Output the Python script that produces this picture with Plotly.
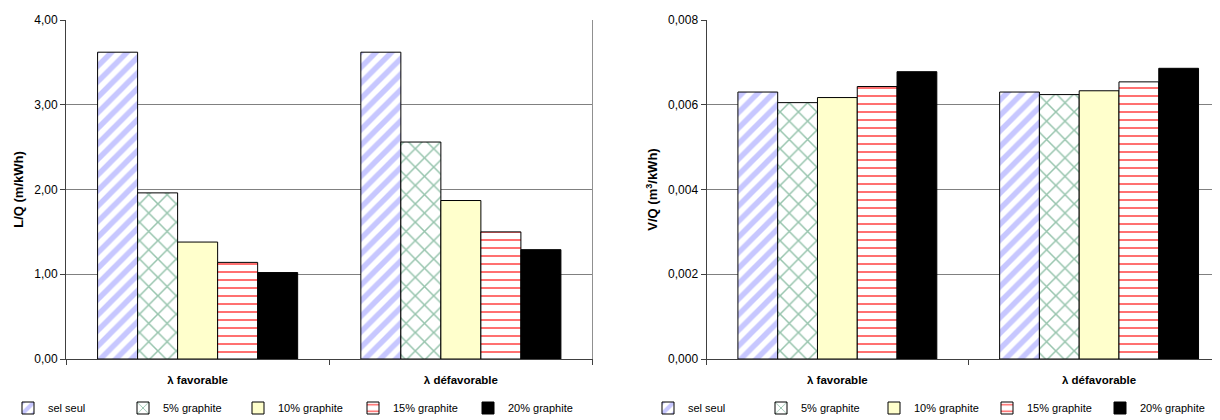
import plotly.graph_objects as go

categories = ["λ favorable", "λ défavorable"]
series = ["sel seul", "5% graphite", "10% graphite", "15% graphite", "20% graphite"]

# L/Q (m/kWh)
lq_sel = [3.62, 3.62]
lq_5 = [1.96, 2.56]
lq_10 = [1.38, 1.87]
lq_15 = [1.14, 1.50]
lq_20 = [1.02, 1.29]

# V/Q (m3/kWh)
vq_sel = [0.00630, 0.00630]
vq_5 = [0.00605, 0.00624]
vq_10 = [0.00617, 0.00633]
vq_15 = [0.00643, 0.00654]
vq_20 = [0.00678, 0.00686]

left_ticks = [0, 1, 2, 3, 4]
right_ticks = [0, 0.002, 0.004, 0.006, 0.008]

FONT = "Liberation Sans, Arial, sans-serif"

# the page body has an 8px default margin; the figure is sized/placed to compensate
OFF = 8
W, H = 1220 - OFF, 420 - OFF


def fx(p):
    return (p - OFF) / W


styles = [
    dict(color="white", pattern=dict(shape="/", fgcolor="#8f8fff", bgcolor="white", size=11, solidity=0.5)),
    dict(color="white", pattern=dict(shape="x", fgcolor="#2f8a5c", bgcolor="white", size=13, solidity=0.22)),
    dict(color="#FFFFCC"),
    dict(color="white", pattern=dict(shape="-", fgcolor="#FF0000", bgcolor="white", size=8, solidity=0.2, fgopacity=0.7)),
    dict(color="#000000"),
]

left_vals = [lq_sel, lq_5, lq_10, lq_15, lq_20]
right_vals = [vq_sel, vq_5, vq_10, vq_15, vq_20]

fig = go.Figure()
for name, vals, st in zip(series, left_vals, styles):
    fig.add_trace(go.Bar(x=categories, y=vals, name=name, xaxis="x", yaxis="y",
                         legend="legend",
                         marker=dict(line=dict(color="black", width=1), **st)))
for name, vals, st in zip(series, right_vals, styles):
    fig.add_trace(go.Bar(x=categories, y=vals, name=name, xaxis="x2", yaxis="y2",
                         legend="legend2",
                         marker=dict(line=dict(color="black", width=1), **st)))

axis_common = dict(showline=True, linecolor="#404040", linewidth=1, ticks="outside",
                   ticklen=5, tickcolor="#404040", automargin=False)

xfont = dict(family=FONT, size=11.5, weight="bold")
yfont = dict(family=FONT, size=12)
tfont = dict(family=FONT, size=13, weight="bold")

fig.update_layout(
    width=W, height=H,
    margin=dict(l=0, r=0, t=20 - OFF, b=61),
    paper_bgcolor="white", plot_bgcolor="white",
    separators=", ",
    font=dict(family=FONT, size=11, color="#000000"),
    barmode="group",
    bargap=0.24,
    bargroupgap=0,
    xaxis=dict(domain=[fx(66), fx(592.5)], anchor="y", type="category",
               range=[-0.5, 1.5], tickson="boundaries", ticklabelstandoff=10,
               tickfont=xfont, **axis_common),
    yaxis=dict(domain=[0, 1], anchor="x", range=[0, 4], tickvals=left_ticks, tickformat=".2f",
               showgrid=True, gridcolor="#808080", gridwidth=1, zeroline=False,
               tickfont=yfont,
               title=dict(text="L/Q (m/kWh)", standoff=7, font=tfont),
               **axis_common),
    xaxis2=dict(domain=[fx(706.5), 1.0], anchor="y2", type="category",
                range=[-0.5, 1.462], tickson="boundaries", ticklabelstandoff=10,
                tickfont=xfont, **axis_common),
    yaxis2=dict(domain=[0, 1], anchor="x2", range=[0, 0.008], tickvals=right_ticks, tickformat=".3f",
                showgrid=True, gridcolor="#808080", gridwidth=1, zeroline=False,
                tickfont=yfont,
                title=dict(text="V/Q (m<sup>3</sup>/kWh)", standoff=7, font=tfont),
                **axis_common),
    legend=dict(orientation="h", xref="container", yref="container", x=-8 / W,
                y=1 - (408 - OFF) / H,
                xanchor="left", yanchor="middle", entrywidth=70, itemwidth=30,
                font=dict(family=FONT, size=11), traceorder="normal", bgcolor="rgba(0,0,0,0)"),
    legend2=dict(orientation="h", xref="container", yref="container", x=(648 - OFF) / W,
                 y=1 - (408 - OFF) / H,
                 xanchor="left", yanchor="middle", entrywidth=68, itemwidth=30,
                 font=dict(family=FONT, size=11), traceorder="normal", bgcolor="rgba(0,0,0,0)"),
    shapes=[dict(type="line", xref="x domain", yref="y domain", x0=1, x1=1, y0=0, y1=1,
                 line=dict(color="#909090", width=1))],
)

fig.write_html("out.html")
